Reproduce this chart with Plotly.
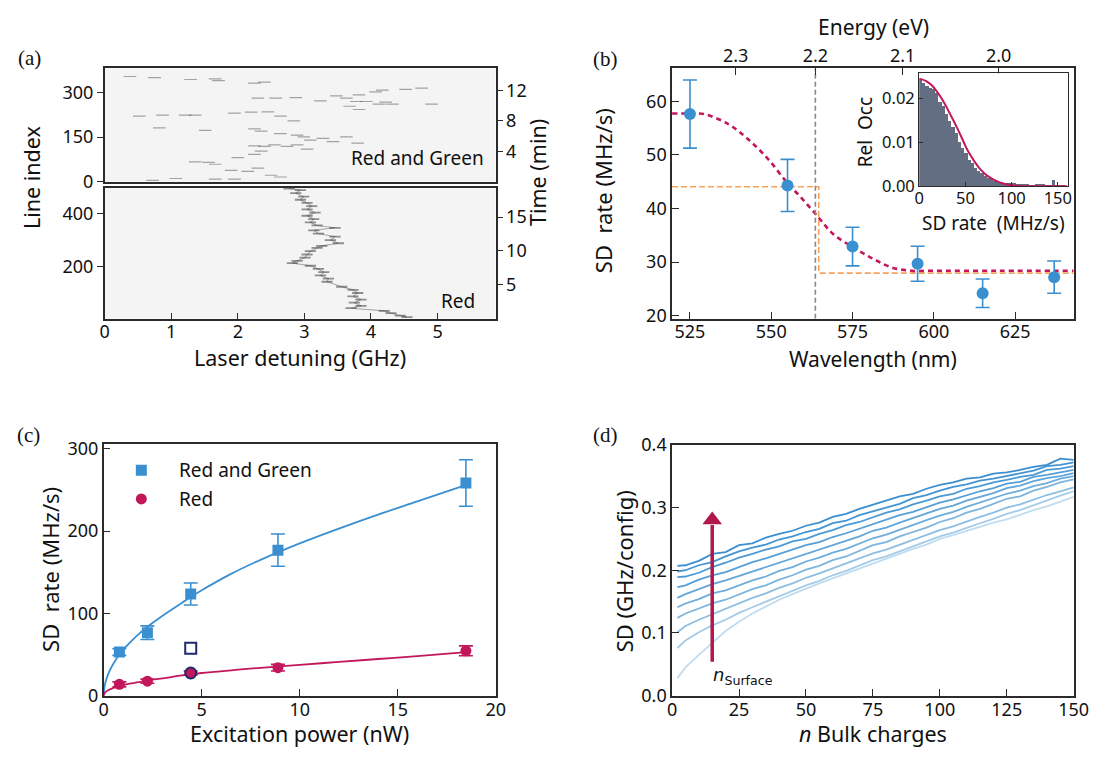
import plotly.graph_objects as go

W, H = 1110, 757
def fx(p): return p / W
def fy(p): return 1 - p / H

FONT = "Noto Sans"
BLUE = "#3a8fd0"
CRIMSON = "#c2185b"
ORANGE = "#f5a25d"
NAVY = "#1c2b6b"
FRAME = "#2b2b2b"
ARROW = "#b0174d"
NB = "\u00a0"

# ---------------- data ----------------
# (a) Red and Green: short spectral lines (detuning GHz, line index)
rg_detuning = [0.38, 0.75, 1.29, 1.66, 1.71, 2.25, 2.40, 2.30, 2.57, 2.87, 3.24, 3.48, 3.63, 3.78,
               3.93, 4.12, 4.32, 4.52, 4.76, 4.91, 4.07, 3.82, 4.17, 3.68, 3.82, 4.22, 0.52, 0.87,
               1.21, 1.36, 1.95, 2.20, 2.45, 2.64, 2.84, 0.82, 1.51, 2.25, 2.35, 2.64, 2.89, 2.99,
               3.28, 3.43, 3.63, 3.80, 3.09, 2.25, 2.40, 2.55, 2.74, 2.89, 3.04, 2.35, 2.25, 2.00,
               1.36, 1.56, 1.66, 1.90, 2.30, 2.15, 2.50, 2.64, 0.72, 1.07, 1.66, 1.95]
rg_line = [354, 350, 344, 346, 340, 332, 335, 281, 281, 283, 272, 289, 281, 270,
           270, 261, 261, 311, 315, 261, 302, 292, 308, 254, 243, 268, 221, 224,
           224, 224, 231, 234, 235, 221, 205, 181, 173, 178, 170, 162, 157, 151,
           146, 135, 151, 130, 140, 121, 119, 124, 119, 124, 110, 103, 92, 81,
           67, 65, 59, 38, 46, 35, 22, 16, 5, 11, 9, 9]
# (a) Red: wandering spectral line
red_detuning = [2.77, 2.94, 2.87, 2.99, 2.94, 3.04, 3.11, 3.04, 3.16, 3.04, 3.14, 3.09, 3.19, 3.46,
                3.14, 3.21, 3.46, 3.39, 3.51, 3.26, 3.19, 3.09, 3.04, 3.01, 2.89, 2.82, 3.09, 3.21,
                3.29, 3.24, 3.36, 3.34, 3.56, 3.73, 3.80, 3.73, 3.85, 3.75, 3.85, 3.70, 4.20, 4.30,
                4.44, 4.54]
red_line = [497, 491, 479, 466, 454, 442, 430, 417, 405, 393, 380, 368, 356, 347,
            337, 325, 313, 300, 288, 278, 270, 258, 245, 233, 221, 212, 202, 190,
            178, 165, 153, 141, 122, 110, 98, 85, 73, 61, 49, 40, 30, 21,
            12, 6]
a_x_ticks = [0, 1, 2, 3, 4, 5]
a_top_index_ticks = [0, 150, 300]
a_top_time_ticks = [4, 8, 12]
a_bot_index_ticks = [200, 400]
a_bot_time_ticks = [5, 10, 15]

# (b) SD rate vs excitation wavelength
wavelength = [525, 555, 575, 595, 615, 637]
sd_rate = [57.6, 44.3, 32.9, 29.7, 24.2, 27.2]
sd_rate_err = [6.35, 4.85, 3.6, 3.25, 2.65, 3.0]
fit_wl = [519.5, 525, 529.3, 536.9, 542.9, 548.9, 554.9, 559.1, 564.3, 569.1, 575.1, 581.1,
          587.1, 593.1, 600, 620, 643]
fit_rate = [57.7, 57.7, 57.6, 55.7, 52.9, 49.3, 44.8, 42.1, 38.5, 35.2, 32.8, 30.7,
            29.0, 28.4, 28.4, 28.4, 28.4]
step_wl = [519.5, 564.6, 564.6, 643]
step_rate = [44.05, 44.05, 27.96, 27.96]
energy_ticks = [2.3, 2.2, 2.1, 2.0]
threshold_energy = 2.2
b_wl_ticks = [525, 550, 575, 600, 625]
b_rate_ticks = [20, 30, 40, 50, 60]
# (b) inset histogram
hist_bin_width = 3.5
hist_occ = [0.0243, 0.0234, 0.0228, 0.0224, 0.0221, 0.0211, 0.0192, 0.0181, 0.0163, 0.0148,
            0.0135, 0.0120, 0.0099, 0.0087, 0.0075, 0.0060, 0.0052, 0.0041, 0.0034, 0.0030,
            0.0023, 0.0019, 0.0015, 0.0012, 0.0009, 0.0008, 0.0006, 0.0006, 0.0007, 0.0006,
            0.0004, 0.0005, 0.0003, 0.0003, 0.0002, 0.0002, 0.0003, 0.0004, 0.0004, 0.0002,
            0.0002, 0.0013, 0.0001, 0.0001, 0.0001]
hist_fit_rate = [0, 7, 13, 20, 27, 34, 41, 47, 52, 59, 66, 73, 80, 87, 94, 101, 108, 120, 140, 160]
hist_fit_occ = [0.0245, 0.0240, 0.0231, 0.0213, 0.0190, 0.0162, 0.0133, 0.0106, 0.0083, 0.0059,
                0.0039, 0.0025, 0.0016, 0.0009, 0.0005, 0.0002, 0.0001, 0.00003, 0.0, 0.0]

# (c) SD rate vs excitation power
power = [0.8, 2.23, 4.44, 8.89, 18.48]
rg_rate = [52.9, 76.5, 123.5, 176.8, 258.4]
rg_rate_err = [4, 8.3, 13.3, 19.6, 28.2]
r_rate = [13.7, 17.6, 27.5, 34.0, 54.5]
r_rate_err = [3, 2.5, 2.5, 4, 6]
open_power = [4.44]
open_rate = [57.6]
fit_power = [0, 0.05, 0.15, 0.3, 0.5, 0.8, 1.2, 1.7, 2.3, 3, 4, 5, 6.5, 8, 10, 12, 14, 16, 18.5]
fit_rg = [0, 12, 21, 30, 39, 50, 61, 73, 85, 97, 113, 128, 148, 165, 185, 203, 220, 236, 256]
fit_r = [0, 3, 5.5, 7.5, 9.5, 12, 14, 16, 18.5, 21, 24.5, 27.5, 30.8, 33.8, 37.4, 41, 44.5, 48, 53]

# (d) simulated SD vs bulk charges, one curve per surface-charge count
n_bulk = [2, 5, 10, 15, 20, 25, 30, 35, 40, 45, 50, 55, 60, 65, 70, 75, 80, 85, 90, 95, 100,
          105, 110, 115, 120, 125, 130, 135, 140, 145, 150]
sd_curves = [
    [.207, .208, .215, .226, .229, .240, .243, .252, .258, .263, .271, .276, .285, .290, .298, .305,
     .312, .318, .322, .330, .336, .340, .346, .348, .354, .356, .360, .365, .368, .378, .376],
    [.198, .200, .208, .213, .222, .230, .236, .241, .249, .254, .261, .266, .275, .279, .288, .294,
     .301, .306, .315, .320, .327, .333, .337, .343, .346, .350, .355, .359, .366, .368, .372],
    [.189, .190, .196, .205, .212, .220, .226, .233, .238, .246, .250, .258, .264, .272, .277, .284,
     .292, .297, .305, .311, .318, .322, .330, .334, .340, .344, .349, .352, .360, .362, .366],
    [.173, .176, .185, .192, .197, .205, .213, .219, .226, .232, .240, .245, .253, .259, .266, .274,
     .280, .288, .293, .301, .308, .313, .320, .326, .331, .338, .341, .349, .352, .356, .360],
    [.156, .162, .170, .178, .184, .191, .198, .206, .212, .220, .227, .233, .241, .248, .254, .263,
     .268, .276, .283, .290, .298, .303, .311, .317, .323, .331, .335, .342, .347, .350, .355],
    [.141, .147, .154, .163, .168, .176, .184, .190, .199, .205, .214, .220, .228, .234, .242, .251,
     .257, .265, .272, .280, .287, .293, .301, .308, .316, .322, .327, .334, .339, .346, .350],
    [.124, .131, .139, .147, .153, .161, .170, .176, .185, .192, .201, .207, .216, .222, .231, .240,
     .245, .254, .261, .268, .277, .283, .292, .298, .306, .314, .318, .327, .333, .340, .345],
    [.101, .111, .121, .130, .139, .147, .156, .163, .172, .179, .188, .195, .203, .210, .218, .227,
     .233, .241, .249, .256, .264, .270, .278, .285, .292, .300, .305, .313, .320, .326, .332],
    [.076, .088, .101, .112, .121, .132, .141, .150, .158, .167, .176, .183, .192, .199, .207, .216,
     .222, .230, .238, .245, .254, .260, .268, .275, .282, .290, .296, .304, .311, .319, .326],
    [.028, .045, .065, .084, .103, .118, .131, .142, .153, .162, .171, .179, .187, .195, .203, .211,
     .219, .226, .234, .241, .250, .256, .263, .270, .276, .281, .289, .296, .302, .309, .317],
]
sd_colors = ["#3b8fd0", "#4394d3", "#4c9ad5", "#569fd7", "#62a6da",
             "#6eaddc", "#7db5df", "#8ebfe3", "#a4cbe8", "#c0dcef"]
d_x_ticks = [0, 25, 50, 75, 100, 125, 150]
d_y_ticks = [0.0, 0.1, 0.2, 0.3, 0.4]
# arrow marking increasing surface-charge number
arrow_n = [15, 15]
arrow_sd = [0.054, 0.272]
arrow_head_sd = [0.280]

# ---------------- figure ----------------
fig = go.Figure()

# (a) top: Red and Green
fig.add_trace(go.Scatter(x=rg_detuning, y=rg_line, mode="markers", xaxis="x", yaxis="y",
                         marker=dict(symbol="line-ew", size=9,
                                     line=dict(width=1.2, color="rgba(80,80,80,0.5)")),
                         showlegend=False, hoverinfo="skip"))
# (a) bottom: Red
fig.add_trace(go.Scatter(x=red_detuning, y=red_line, mode="lines+markers", xaxis="x2", yaxis="y3",
                         line=dict(color="rgba(100,100,100,0.5)", width=1.1),
                         marker=dict(symbol="line-ew", size=8,
                                     line=dict(width=1.8, color="rgba(60,60,60,0.55)")),
                         showlegend=False, hoverinfo="skip"))
# invisible traces to activate time axes
fig.add_trace(go.Scatter(x=[None], y=[None], xaxis="x", yaxis="y2", showlegend=False, hoverinfo="skip"))
fig.add_trace(go.Scatter(x=[None], y=[None], xaxis="x2", yaxis="y4", showlegend=False, hoverinfo="skip"))

# (b)
wl_22 = 1239.84 / threshold_energy
fig.add_trace(go.Scatter(x=[wl_22, wl_22], y=[19.46, 66.1], mode="lines", xaxis="x4", yaxis="y5",
                         line=dict(color="#888888", width=1.6, dash="5px,3px"),
                         showlegend=False, hoverinfo="skip"))
fig.add_trace(go.Scatter(x=step_wl, y=step_rate, mode="lines", xaxis="x3", yaxis="y5",
                         line=dict(color=ORANGE, width=1.6, dash="6px,3px"),
                         showlegend=False, hoverinfo="skip"))
fig.add_trace(go.Scatter(x=fit_wl, y=fit_rate, mode="lines", xaxis="x3", yaxis="y5",
                         line=dict(color=CRIMSON, width=2.6, dash="5px,4px", shape="spline"),
                         showlegend=False, hoverinfo="skip"))
fig.add_trace(go.Scatter(x=wavelength, y=sd_rate, mode="markers", xaxis="x3", yaxis="y5",
                         marker=dict(symbol="circle", size=12, color=BLUE),
                         error_y=dict(type="data", array=sd_rate_err, color=BLUE, thickness=1.6, width=7),
                         showlegend=False))
# inset
hist_centers = [hist_bin_width * (i + 0.5) for i in range(len(hist_occ))]
fig.add_trace(go.Bar(x=hist_centers, y=hist_occ, width=hist_bin_width, xaxis="x5", yaxis="y6",
                     marker=dict(color="#646e82", line=dict(width=0)), showlegend=False))
fig.add_trace(go.Scatter(x=hist_fit_rate, y=hist_fit_occ, mode="lines", xaxis="x5", yaxis="y6",
                         line=dict(color=CRIMSON, width=2, shape="spline"), showlegend=False))

# (c)
fig.add_trace(go.Scatter(x=fit_power, y=fit_rg, mode="lines", xaxis="x6", yaxis="y7",
                         line=dict(color=BLUE, width=1.8, shape="spline"), showlegend=False))
fig.add_trace(go.Scatter(x=fit_power, y=fit_r, mode="lines", xaxis="x6", yaxis="y7",
                         line=dict(color=CRIMSON, width=1.8, shape="spline"), showlegend=False))
fig.add_trace(go.Scatter(x=power, y=rg_rate, mode="markers", xaxis="x6", yaxis="y7",
                         marker=dict(symbol="square", size=11, color=BLUE),
                         error_y=dict(type="data", array=rg_rate_err, color=BLUE, thickness=1.6, width=7),
                         showlegend=False))
fig.add_trace(go.Scatter(x=power, y=r_rate, mode="markers", xaxis="x6", yaxis="y7",
                         marker=dict(symbol="circle", size=11, color=CRIMSON,
                                     line=dict(width=[0, 0, 2, 0, 0], color=NAVY)),
                         error_y=dict(type="data", array=r_rate_err, color=CRIMSON, thickness=1.6, width=7),
                         showlegend=False))
fig.add_trace(go.Scatter(x=open_power, y=open_rate, mode="markers", xaxis="x6", yaxis="y7",
                         marker=dict(symbol="square-open", size=11, color=NAVY, line=dict(width=2)),
                         showlegend=False))
# legend markers (c)
fig.add_trace(go.Scatter(x=[1.92], y=[274], mode="markers", xaxis="x6", yaxis="y7",
                         marker=dict(symbol="square", size=11, color=BLUE), showlegend=False))
fig.add_trace(go.Scatter(x=[1.92], y=[239], mode="markers", xaxis="x6", yaxis="y7",
                         marker=dict(symbol="circle", size=11, color=CRIMSON), showlegend=False))

# (d)
for curve, col in zip(reversed(sd_curves), reversed(sd_colors)):
    fig.add_trace(go.Scatter(x=n_bulk, y=curve, mode="lines", xaxis="x7", yaxis="y8",
                             line=dict(color=col, width=1.8), showlegend=False))
fig.add_trace(go.Scatter(x=arrow_n, y=arrow_sd, mode="lines", xaxis="x7", yaxis="y8",
                         line=dict(color=ARROW, width=3.5), showlegend=False, hoverinfo="skip"))
fig.add_trace(go.Scatter(x=arrow_n[:1], y=arrow_head_sd, mode="markers", xaxis="x7", yaxis="y8",
                         marker=dict(symbol="triangle-up", size=17, color=ARROW),
                         showlegend=False, hoverinfo="skip"))

# ---------------- axes ----------------
tickfont = dict(family=FONT, size=18, color="#111")
insetfont = dict(family=FONT, size=16.5, color="#111")
base = dict(showline=True, linecolor=FRAME, linewidth=1.5, showgrid=False, zeroline=False,
            tickfont=tickfont, tickcolor=FRAME, tickwidth=1.4, fixedrange=True)

def ax(**kw):
    d = dict(base)
    d.update(kw)
    return d

a_left, a_right = fx(101.5), fx(499.5)
fig.update_layout(
    # (a) top
    xaxis=ax(domain=[a_left, a_right], range=[0, 5.87], anchor="y", showticklabels=False,
             ticks="", mirror=True),
    yaxis=ax(domain=[fy(174.3), fy(57.3)], range=[0, 381], anchor="x", tickvals=a_top_index_ticks,
             ticks="outside", ticklen=6, mirror=True),
    yaxis2=ax(overlaying="y", side="right", range=[0, 14.86], anchor="x", tickvals=a_top_time_ticks,
              ticks="outside", ticklen=6, showline=False),
    # (a) bottom
    xaxis2=ax(domain=[a_left, a_right], range=[0, 5.87], anchor="y3", tickvals=a_x_ticks,
              ticks="inside", ticklen=6, mirror=True, ticklabelstandoff=-4),
    yaxis3=ax(domain=[fy(315.7), fy(180.7)], range=[0, 499], anchor="x2", tickvals=a_bot_index_ticks,
              ticks="outside", ticklen=6, mirror=True),
    yaxis4=ax(overlaying="y3", side="right", range=[0, 19.3], anchor="x2", tickvals=a_bot_time_ticks,
              ticks="outside", ticklen=6, showline=False),
    # (b)
    xaxis3=ax(domain=[fx(679.3), fx(1088.3)], range=[519.5, 643], anchor="y5", tickvals=b_wl_ticks,
              ticks="inside", ticklen=7, mirror=True, ticklabelstandoff=-4),
    xaxis4=ax(overlaying="x3", side="top", range=[519.5, 643], anchor="y5",
              tickvals=[1239.84 / e for e in energy_ticks],
              ticktext=[f"{e:.1f}" for e in energy_ticks], ticks="inside", ticklen=7,
              ticklabelstandoff=-2),
    yaxis5=ax(domain=[fy(315.7), fy(57.3)], range=[19.46, 66.1], anchor="x3", tickvals=b_rate_ticks,
              ticks="inside", ticklen=7, mirror=True),
    # inset
    xaxis5=ax(domain=[fx(931), fx(1082.5)], range=[0, 161], anchor="y6", tickvals=[0, 50, 100, 150],
              ticks="inside", ticklen=4, mirror=True, linewidth=1.2, tickfont=insetfont,
              ticklabelstandoff=-3),
    yaxis6=ax(domain=[fy(179), fy(62.3)], range=[0, 0.0257], anchor="x5", tickvals=[0, 0.01, 0.02],
              tickformat=".2f", ticks="inside", ticklen=4, mirror=True, linewidth=1.2,
              tickfont=insetfont),
    # (c)
    xaxis6=ax(domain=[fx(100.5), fx(499.7)], range=[0, 20], anchor="y7", tickvals=[0, 5, 10, 15, 20],
              ticks="inside", ticklen=7, mirror=True, ticklabelstandoff=-3),
    yaxis7=ax(domain=[fy(705), fy(445)], range=[0, 305.9], anchor="x6", tickvals=[0, 100, 200, 300],
              ticks="inside", ticklen=7, mirror=True),
    # (d)
    xaxis7=ax(domain=[fx(679.3), fx(1088.3)], range=[0, 150], anchor="y8", tickvals=d_x_ticks,
              ticks="inside", ticklen=7, mirror=True, ticklabelstandoff=-3),
    yaxis8=ax(domain=[fy(705), fy(446)], range=[0, 0.4], anchor="x7", tickvals=d_y_ticks,
              tickformat=".1f", ticks="inside", ticklen=7, mirror=True),
)

# backgrounds
shapes = []
for xr, yr in [("x", "y"), ("x2", "y3")]:
    shapes.append(dict(type="rect", xref=f"{xr} domain", yref=f"{yr} domain", x0=0, x1=1, y0=0, y1=1,
                       fillcolor="#f4f4f4", line=dict(width=0), layer="below"))
fig.update_layout(shapes=shapes)

# ---------------- annotations ----------------
anns = []
def ann(text, px, py, size=21.5, angle=0, xanchor="center", yanchor="middle", family=FONT, color="#111"):
    anns.append(dict(text=text, x=fx(px), y=fy(py), xref="paper", yref="paper", showarrow=False,
                     textangle=angle, xanchor=xanchor, yanchor=yanchor,
                     font=dict(family=family, size=size, color=color)))

SERIF = "Liberation Serif"
ann("(a)", 25, 46, size=21, family=SERIF)
ann("(b)", 612, 47, size=21, family=SERIF)
ann("(c)", 24, 436, size=21, family=SERIF)
ann("(d)", 612, 436, size=21, family=SERIF)

ann("Line index", 27, 170, angle=-90)
ann("Time (min)", 543, 165, angle=-90)
ann("Laser detuning (GHz)", 300, 356)
ann("Red and Green", 490, 150, size=19, xanchor="right")
ann("Red", 481, 297, size=19, xanchor="right")

ann(f"SD{NB}{NB}rate (MHz/s)", 609, 184, size=22, angle=-90)
ann("Wavelength (nm)", 884, 357, size=21)
ann("Energy (eV)", 884, 14, size=21)
ann(f"Rel{NB}{NB}Occ", 876, 123, size=19, angle=-90)
ann(f"SD rate{NB}{NB}(MHz/s)", 1007, 217, size=19)

ann(f"SD{NB}{NB}rate (MHz/s)", 46, 575, size=22, angle=-90)
ann("Excitation power (nW)", 300, 744)
ann("Red and Green", 175, 472, size=19, xanchor="left")
ann("Red", 175, 502, size=19, xanchor="left")

ann("SD (GHz/config)", 630, 577, size=22, angle=-90)
ann("<i>n</i> Bulk charges", 884, 744)

fig.update_layout(annotations=anns)
fig.add_annotation(x=14.4, y=0.032, xref="x7", yref="y8", showarrow=False, xanchor="left",
                   text="<i>n</i><sub>Surface</sub>",
                   font=dict(family="DejaVu Sans", size=18, color="#111"))

fig.update_layout(width=W, height=H, margin=dict(l=0, r=0, t=0, b=0),
                  paper_bgcolor="white", plot_bgcolor="white", showlegend=False,
                  bargap=0)

fig.write_html("out.html")
